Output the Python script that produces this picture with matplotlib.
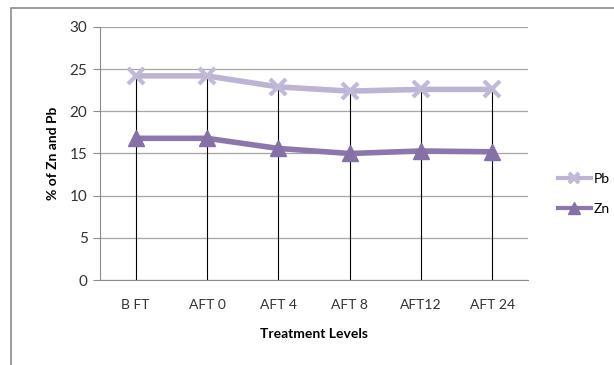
import matplotlib.pyplot as plt
from matplotlib.patches import Rectangle
import numpy as np

# datos
niveles = ["B FT", "AFT 0", "AFT 4", "AFT 8", "AFT12", "AFT 24"]
pb = [24.2, 24.2, 22.9, 22.4, 22.6, 22.6]
zn = [16.8, 16.8, 15.6, 15.0, 15.3, 15.2]

plt.rcParams['font.family'] = ['Lato', 'DejaVu Sans']

fig = plt.figure(figsize=(6.14, 3.65), dpi=100)
ax = fig.add_axes([100/614, 1-280/365, 428/614, 253/365])

# marco exterior del grafico
fig.patches.append(Rectangle((11/614, -0.1), 1.2, 1-8/365+0.1, transform=fig.transFigure,
                             fill=False, edgecolor="#8c8c8c", linewidth=1.2))

x = np.arange(len(niveles))
ax.vlines(x, 0, pb, color="black", linewidth=0.8, zorder=2)
ax.plot(x, pb, color="#bdb3d3", linewidth=4, marker="x", markersize=11,
        markeredgewidth=3, markeredgecolor="#c2b8d8", label="Pb", zorder=3)
ax.plot(x, zn, color="#8b77ac", linewidth=4, marker="^", markersize=12,
        markerfacecolor="#8570a8", markeredgecolor="#8570a8", label="Zn", zorder=3)

ax.set_xlim(-0.5, 5.5)
ax.set_ylim(0, 30)
ax.set_yticks(range(0, 31, 5))
ax.set_xticks(x)
ax.set_xticklabels(niveles)
ax.grid(axis="y", color="#a6a6a6", linewidth=0.9)
ax.set_axisbelow(True)
for s in ["top", "right"]:
    ax.spines[s].set_visible(False)
ax.spines["left"].set_color("#8c8c8c")
ax.spines["bottom"].set_color("#8c8c8c")
ax.tick_params(axis="y", length=5, color="#8c8c8c", labelsize=11, pad=4, labelcolor="#333333")
ax.tick_params(axis="x", length=0, labelsize=10, pad=14, labelcolor="#333333")

ax.set_ylabel("% of Zn and Pb", fontsize=10, fontweight="bold", labelpad=8)
ax.set_xlabel("Treatment Levels", fontsize=10, fontweight="bold", labelpad=12)

leg = ax.legend(loc="center left", bbox_to_anchor=(1.04, 0.34), frameon=False,
                fontsize=10, handlelength=2.4, labelspacing=1.3, handletextpad=0.2,
                markerscale=0.7)
for h in leg.get_lines():
    h.set_linewidth(3)

plt.savefig("out.png", dpi=100)
